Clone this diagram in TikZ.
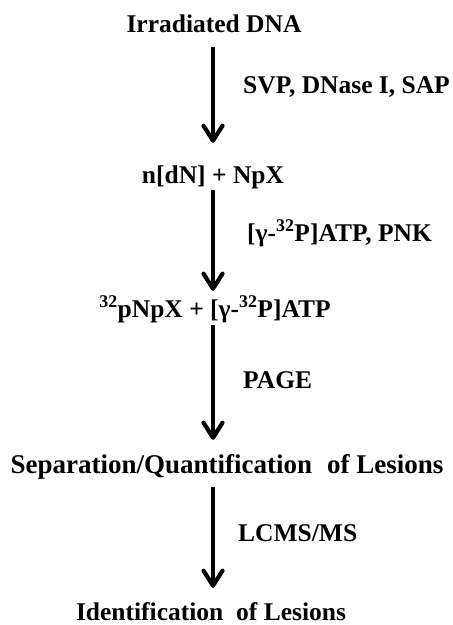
\documentclass[tikz,border=0pt]{standalone}
\usepackage{fontspec}
\setmainfont{Liberation Serif}
\usetikzlibrary{arrows.meta}

\begin{document}
\begin{tikzpicture}[x=1pt,y=-1pt,
  txt/.style={inner sep=0pt, text height=18pt, text depth=6pt,
              font=\fontsize{25.5}{30}\selectfont\bfseries},
  stage/.style={txt, anchor=base},
  agent/.style={txt, anchor=base west},
  flow/.style={line width=4.2pt,
               -{Straight Barb[length=15pt,width=19pt,line cap=round,line join=round]}}]
  \useasboundingbox (0,0) rectangle (453,625);
  \coordinate (spine) at (213,0);

  % stages of the assay
  \node[stage] (s1) at (214,32)  {Irradiated DNA};
  \node[stage] (s2) at (213,183) {n[dN] + NpX};
  \node[stage] (s3) at (215,317) {\textsuperscript{32}pNpX + [γ-\textsuperscript{32}P]ATP};
  \node[stage, font=\fontsize{27}{30}\selectfont\bfseries] (s4) at (227,473)
       {Separation/Quantification\hspace{0.3em} of Lesions};
  \node[stage, text depth=2pt] (s5) at (211,620) {Identification\hspace{0.25em} of Lesions};

  % reagents / methods for each step
  \node[agent] (r1) at (243,93)  {SVP, DNase I, SAP};
  \node[agent] (r2) at (247,241) {[γ-\textsuperscript{32}P]ATP, PNK};
  \node[agent] (r3) at (243,388) {PAGE};
  \node[agent] (r4) at (238,541) {LCMS/MS};

  % step arrows
  \draw[flow, shorten <=9pt,  shorten >=22pt] (s1.south -| spine) -- (s2.north -| spine);
  \draw[flow, shorten <=1pt,  shorten >=8pt]  (s2.south -| spine) -- (s3.north -| spine);
  \draw[flow, shorten <=2pt,  shorten >=15pt] (s3.south -| spine) -- (s4.north -| spine);
  \draw[flow, shorten <=8pt,  shorten >=14pt] (s4.south -| spine) -- (s5.north -| spine);
\end{tikzpicture}
\end{document}
